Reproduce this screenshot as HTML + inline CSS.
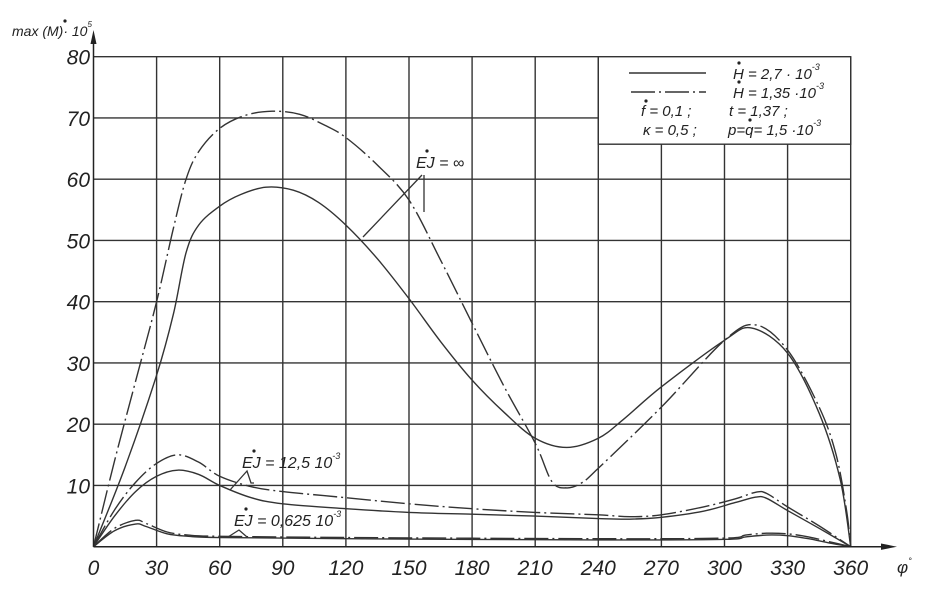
<!DOCTYPE html>
<html><head><meta charset="utf-8"><style>
html,body{margin:0;padding:0;background:#fff;}
svg{display:block;}
text{font-family:"Liberation Sans",sans-serif;font-style:italic;fill:#222;}
</style></head><body>
<svg id="s" width="932" height="596" viewBox="0 0 932 596" xmlns="http://www.w3.org/2000/svg">
<g id="grid" stroke="#333" stroke-width="1.4" fill="none"></g>
<g id="curves" stroke="#333" stroke-width="1.4" fill="none"></g>
<rect x="598.3" y="56.7" width="252.4" height="87.5" fill="#fff" stroke="#333" stroke-width="1.4"/>
<line x1="629" y1="73" x2="706" y2="73" stroke="#333" stroke-width="1.4"/>
<line x1="631" y1="92" x2="706" y2="92" stroke="#333" stroke-width="1.4" stroke-dasharray="24 4 2 4"/>
<g font-size="15">
<text x="733" y="79">H = 2,7 · 10<tspan font-size="9" dy="-9">-3</tspan></text>
<text x="733" y="98">H = 1,35 ·10<tspan font-size="9" dy="-9">-3</tspan></text>
<text x="641" y="116">f = 0,1 ;</text>
<text x="729" y="116">t = 1,37 ;</text>
<text x="643" y="135">κ = 0,5 ;</text>
<text x="728" y="135">p=q= 1,5 ·10<tspan font-size="9" dy="-9">-3</tspan></text>
</g>
<g fill="#222"><circle cx="739" cy="63" r="1.6"/><circle cx="739" cy="82" r="1.6"/><circle cx="646" cy="101" r="1.6"/><circle cx="750" cy="120" r="1.6"/></g>
<line x1="93.5" y1="546.7" x2="93.5" y2="38" stroke="#222" stroke-width="1.5"/>
<polygon points="93.5,30 90.5,44 96.5,44" fill="#222"/>
<line x1="93.5" y1="546.7" x2="885" y2="546.7" stroke="#222" stroke-width="1.5"/>
<polygon points="897,546.7 881,543.5 881,549.9" fill="#222"/>
<g font-size="14"><text x="12" y="36">max (M)· 10<tspan font-size="8" dy="-9">5</tspan></text></g>
<circle cx="65" cy="21" r="1.6" fill="#222"/>
<text x="897" y="573" font-size="17">φ<tspan font-size="9" dy="-9">°</tspan></text>
<g id="labels" font-size="21"></g>
<g font-size="16">
<text x="416" y="168">EJ = ∞</text>
<text x="242" y="468">EJ = 12,5  10<tspan font-size="9" dy="-9">-3</tspan></text>
<text x="234" y="526">EJ = 0,625  10<tspan font-size="9" dy="-9">-3</tspan></text>
</g>
<g fill="#222"><circle cx="427" cy="151" r="1.6"/><circle cx="254" cy="451" r="1.6"/><circle cx="246" cy="509" r="1.6"/></g>
<g stroke="#333" stroke-width="1.3" fill="none">
<polyline points="363,237 422,175"/><line x1="424" y1="175" x2="424" y2="212"/>
<polyline points="230,490 247,471 251,483 254,483"/>
<polyline points="228,537 239,530 247,537"/>
</g>
</svg>
<script>
var X=function(p){return 93.5+p*2.1033;},Y=function(v){return 546.7-v*6.125;};
var ns="http://www.w3.org/2000/svg";
function el(par,tag,at,txt){var e=document.createElementNS(ns,tag);for(var k in at)e.setAttribute(k,at[k]);if(txt!=null)e.textContent=txt;document.getElementById(par).appendChild(e);}
for(var i=1;i<=12;i++)el("grid","line",{x1:X(i*30),y1:Y(0),x2:X(i*30),y2:Y(80)});
for(var j=1;j<=8;j++)el("grid","line",{x1:X(0),y1:Y(j*10),x2:X(360),y2:Y(j*10)});
for(var j=1;j<=8;j++)el("labels","text",{x:90,y:Y(j*10)+8,"text-anchor":"end"},String(j*10));
for(var i=0;i<=12;i++)el("labels","text",{x:X(i*30),y:575,"text-anchor":"middle"},String(i*30));
function path(d){var p=d.map(function(a){return [X(a[0]),Y(a[1])];});var s="M"+p[0][0]+","+p[0][1];
for(var i=0;i<p.length-1;i++){var p0=p[Math.max(0,i-1)],p1=p[i],p2=p[i+1],p3=p[Math.min(p.length-1,i+2)];
s+=" C"+(p1[0]+(p2[0]-p0[0])/6)+","+(p1[1]+(p2[1]-p0[1])/6)+" "+(p2[0]-(p3[0]-p1[0])/6)+","+(p2[1]-(p3[1]-p1[1])/6)+" "+p2[0]+","+p2[1];}return s;}
var DD="24 4 2 4";
var C=[
[[[0,0],[10,14],[20,27],[30,40],[38,52],[44,60],[50,64.5],[60,68.3],[72,70.4],[85,71.1],[98,70.6],[110,68.8],[120,66.8],[135,62.3],[150,56.6],[165,46.8],[180,36.5],[195,26.3],[210,16.9],[218,10.6],[225,9.6],[232,10.4],[240,12.8],[270,22.8],[300,33.7],[315,36.2],[330,32.1],[345,22.8],[353,15.1],[358,6],[360,0]],1],
[[[0,0],[15,13],[30,28],[38,38],[44,48],[50,52.5],[60,55.6],[70,57.5],[82,58.7],[95,58.2],[107,56.2],[120,52.5],[135,47],[150,40.5],[165,33.5],[180,27.2],[195,22],[210,17.7],[225,16.2],[240,17.7],[252,20.8],[270,26.1],[300,33.7],[313,35.7],[330,31.6],[345,21.8],[355,11],[360,0]],0],
[[[0,0],[10,6],[20,10.5],[30,13.6],[40,15],[50,13.8],[60,11.5],[75,9.8],[90,9],[120,8],[150,7],[180,6.2],[210,5.6],[240,5.2],[255,4.9],[270,5.2],[290,6.5],[305,7.8],[315,8.9],[320,8.7],[330,6.5],[345,3.4],[360,0]],1],
[[[0,0],[10,5],[20,9],[30,11.5],[40,12.5],[50,11.8],[60,10],[75,8],[90,7],[120,6.2],[150,5.6],[180,5.3],[210,5],[240,4.6],[255,4.5],[270,4.8],[290,5.8],[305,7.2],[315,8.1],[320,7.9],[330,5.9],[345,3],[360,0]],0],
[[[0,0],[10,3],[20,4.3],[25,3.8],[35,2.4],[45,1.9],[60,1.7],[120,1.5],[240,1.3],[300,1.4],[310,1.9],[320,2.2],[330,2.1],[340,1.6],[350,0.8],[360,0]],1],
[[[0,0],[10,2.6],[20,3.7],[25,3.3],[35,2.1],[45,1.7],[60,1.5],[120,1.3],[240,1.1],[300,1.2],[310,1.6],[320,1.9],[330,1.8],[340,1.3],[350,0.6],[360,0]],0]
];
C.forEach(function(c){var a={d:path(c[0])};if(c[1])a["stroke-dasharray"]=DD;el("curves","path",a);});
</script>
</body></html>
